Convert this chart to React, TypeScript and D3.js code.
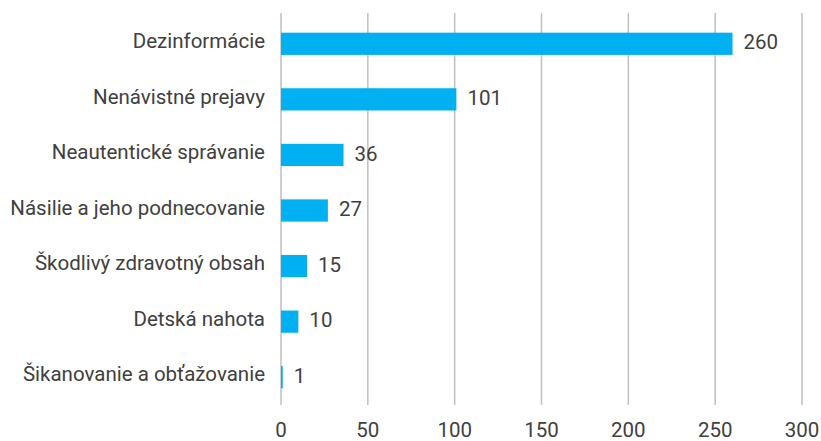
import React from "react";
import * as d3 from "d3";

const categories = [
  "Dezinformácie",
  "Nenávistné prejavy",
  "Neautentické správanie",
  "Násilie a jeho podnecovanie",
  "Škodlivý zdravotný obsah",
  "Detská nahota",
  "Šikanovanie a obťažovanie",
];
const values = [260, 101, 36, 27, 15, 10, 1];
const xTicks = [0, 50, 100, 150, 200, 250, 300];

const W = 821;
const H = 441;
const FONT = "Roboto, 'DejaVu Sans', sans-serif";

export default function App() {
  const x = d3.scaleLinear().domain([0, 300]).range([281, 802]);
  const y = d3
    .scaleBand<string>()
    .domain(categories)
    .range([16, 405])
    .paddingInner(0.6)
    .paddingOuter(0.3);
  const gridTop = 13;
  const gridBottom = 405;

  return (
    <svg
      width={W}
      height={H}
      style={{ position: "absolute", left: 0, top: 0, background: "#fff" }}
      fontFamily={FONT}
    >
      <g>
        {xTicks.map((t) => (
          <line
            key={"g" + t}
            x1={x(t)}
            x2={x(t)}
            y1={gridTop}
            y2={gridBottom}
            stroke="#BFBFC3"
            strokeWidth={1.5}
          />
        ))}
      </g>
      <g>
        {categories.map((c, i) => (
          <rect
            key={"b" + c}
            x={x(0)}
            y={y(c)!}
            width={x(values[i]) - x(0)}
            height={y.bandwidth()}
            fill="#00B0F0"
          />
        ))}
      </g>
      <g>
        {categories.map((c) => (
          <text
            key={"c" + c}
            x={265}
            y={y(c)! + y.bandwidth() / 2 - 3}
            dy="0.35em"
            textAnchor="end"
            fontSize={20.5}
            fill="#404040"
          >
            {c}
          </text>
        ))}
      </g>
      <g>
        {categories.map((c, i) => (
          <text
            key={"v" + c}
            x={x(values[i]) + 11}
            y={y(c)! + y.bandwidth() / 2 - 1.5}
            dy="0.35em"
            textAnchor="start"
            fontSize={20.5}
            fill="#404040"
          >
            {values[i]}
          </text>
        ))}
      </g>
      <g>
        {xTicks.map((t) => (
          <text
            key={"t" + t}
            x={x(t)}
            y={437}
            textAnchor="middle"
            fontSize={20.5}
            fill="#404040"
          >
            {t}
          </text>
        ))}
      </g>
    </svg>
  );
}
